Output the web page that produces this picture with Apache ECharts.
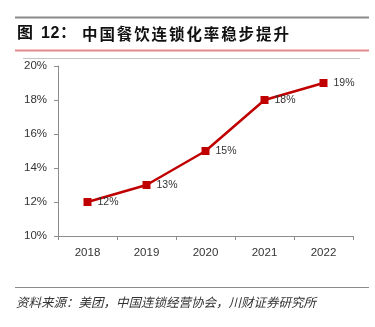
<!DOCTYPE html>
<html>
<head>
<meta charset="utf-8">
<script src="https://cdn.jsdelivr.net/npm/echarts@6/dist/echarts.min.js"></script>
<style>
  html, body { margin: 0; padding: 0; background: #fff; }
  #chart { width: 375px; height: 327px; }
</style>
</head>
<body>
<div id="chart"></div>
<script>
// 中国餐饮连锁化率（2018–2022）
const years = ['2018', '2019', '2020', '2021', '2022'];
const chainRate = [12, 13, 15, 18, 19];
const yTicks = [10, 12, 14, 16, 18, 20];

const titleText = '图 12：中国餐饮连锁化率稳步提升';
const sourceText = '资料来源：美团，中国连锁经营协会，川财证券研究所';

const chart = echarts.init(document.getElementById('chart'), null, { renderer: 'canvas' });

// title is laid out glyph by glyph to reproduce the wide character spacing
const titleGlyphs = [];
(function () {
  const heads = [['图', 17], ['1', 41], ['2', 50.5], ['：', 60]];
  heads.forEach(function (h) {
    titleGlyphs.push({ type: 'text', left: h[1], top: 26, style: { text: h[0], fontSize: 16, fontWeight: 'bold', fill: '#111', fontFamily: 'Arial, "Noto Sans CJK SC", sans-serif' } });
  });
  const rest = titleText.slice(titleText.indexOf('：') + 1);
  for (let i = 0; i < rest.length; i++) {
    titleGlyphs.push({ type: 'text', left: 82 + i * 17.4, top: 26, style: { text: rest[i], fontSize: 15.5, fontWeight: 'bold', fill: '#111', fontFamily: '"Noto Sans CJK SC", sans-serif' } });
  }
})();

chart.setOption({
  animation: false,
  backgroundColor: '#fff',
  grid: { left: 58, right: 22, top: 66, bottom: 91 },
  xAxis: {
    type: 'category',
    data: years,
    boundaryGap: true,
    axisLine: { lineStyle: { color: '#8c8c8c', width: 1 } },
    axisTick: { show: true, length: 4, lineStyle: { color: '#8c8c8c' } },
    axisLabel: { color: '#333', fontSize: 11.5, margin: 11, fontFamily: '"Liberation Sans", Arial, sans-serif' },
    splitLine: { show: false }
  },
  yAxis: {
    type: 'value',
    min: yTicks[0],
    max: yTicks[yTicks.length - 1],
    interval: 2,
    axisLine: { show: true, lineStyle: { color: '#8c8c8c', width: 1 } },
    axisTick: { show: true, length: 4, lineStyle: { color: '#8c8c8c' } },
    axisLabel: { color: '#333', fontSize: 11.5, margin: 11, formatter: '{value}%', fontFamily: '"Liberation Sans", Arial, sans-serif' },
    splitLine: { show: false }
  },
  series: [{
    type: 'line',
    data: chainRate,
    symbol: 'rect',
    symbolSize: 8,
    lineStyle: { color: '#c00000', width: 2.5 },
    itemStyle: { color: '#c00000' },
    label: {
      show: true,
      position: 'right',
      distance: 6,
      formatter: '{c}%',
      color: '#333',
      fontSize: 10.5,
      fontFamily: '"Liberation Sans", Arial, sans-serif'
    }
  }],
  graphic: [
    { type: 'line', shape: { x1: 15, y1: 17.5, x2: 369, y2: 17.5 }, style: { stroke: '#8a8a8a', lineWidth: 2 } },
    { type: 'line', shape: { x1: 15, y1: 50.5, x2: 369, y2: 50.5 }, style: { stroke: '#e38b8b', lineWidth: 2 } },
    { type: 'line', shape: { x1: 23, y1: 58.5, x2: 360, y2: 58.5 }, style: { stroke: '#c4c4c4', lineWidth: 1 } },
    { type: 'line', shape: { x1: 15, y1: 287.5, x2: 369, y2: 287.5 }, style: { stroke: '#8a8a8a', lineWidth: 1 } },
    { type: 'text', left: 16, top: 295.5, style: { text: sourceText, fontSize: 12.5, fontStyle: 'italic', fill: '#333', fontFamily: '"Noto Sans CJK SC", sans-serif' } }
  ].concat(titleGlyphs)
});
</script>
</body>
</html>
